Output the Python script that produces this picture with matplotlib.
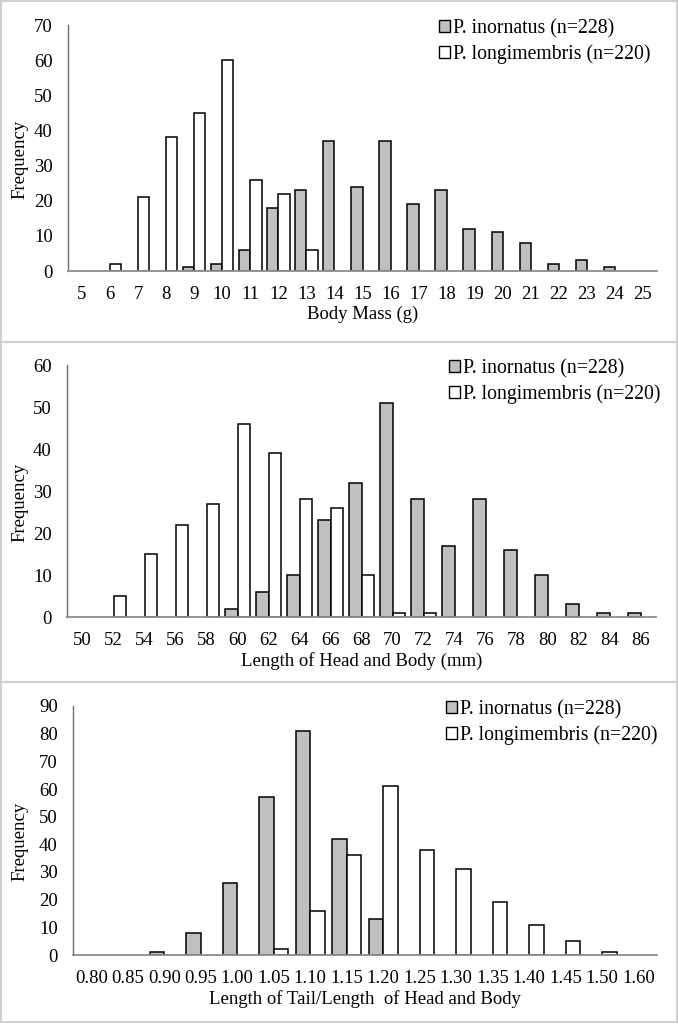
import numpy as np
import matplotlib
matplotlib.use('Agg')
import matplotlib.pyplot as plt
from matplotlib.patches import Rectangle

plt.rcParams['font.family'] = ['Liberation Serif', 'DejaVu Serif']

# body mass (g)
mass_bins = ['5', '6', '7', '8', '9', '10', '11', '12', '13', '14', '15',
             '16', '17', '18', '19', '20', '21', '22', '23', '24', '25']
mass_inornatus = [0, 0, 0, 0, 1, 2, 6, 18, 23, 37, 24, 37, 19, 23, 12, 11, 8, 2, 3, 1, 0]
mass_longimembris = [0, 2, 21, 38, 45, 60, 26, 22, 6, 0, 0, 0, 0, 0, 0, 0, 0, 0, 0, 0, 0]

# length of head and body (mm)
hb_bins = ['50', '52', '54', '56', '58', '60', '62', '64', '66', '68',
           '70', '72', '74', '76', '78', '80', '82', '84', '86']
hb_inornatus = [0, 0, 0, 0, 0, 2, 6, 10, 23, 32, 51, 28, 17, 28, 16, 10, 3, 1, 1]
hb_longimembris = [0, 5, 15, 22, 27, 46, 39, 28, 26, 10, 1, 1, 0, 0, 0, 0, 0, 0, 0]

# tail / head and body
ratio_bins = ['0.80', '0.85', '0.90', '0.95', '1.00', '1.05', '1.10', '1.15',
              '1.20', '1.25', '1.30', '1.35', '1.40', '1.45', '1.50', '1.60']
ratio_inornatus = [0, 0, 1, 8, 26, 57, 81, 42, 13, 0, 0, 0, 0, 0, 0, 0]
ratio_longimembris = [0, 0, 0, 0, 0, 2, 16, 36, 61, 38, 31, 19, 11, 5, 1, 0]

labels = ['P. inornatus (n=228)', 'P. longimembris (n=220)']

W, H = 678, 1024
fig = plt.figure(figsize=(W / 100, H / 100), dpi=100)


def px_axes(left, right, top, bottom):
    # pixel box (from top-left) -> figure fraction
    return fig.add_axes([left / W, 1 - bottom / H, (right - left) / W, (bottom - top) / H])


def draw_panel(ax, bins, inorn, longi, ymax, xlabel, leg_xy):
    x = np.arange(len(bins))
    inorn = np.array(inorn)
    longi = np.array(longi)
    # skip empty bins so no flat outline is drawn on the axis
    m1 = inorn > 0
    m2 = longi > 0
    ax.bar(x[m1] - 0.2, inorn[m1], 0.4, color='#c0c0c0', edgecolor='black', linewidth=1.1)
    ax.bar(x[m2] + 0.2, longi[m2], 0.4, color='white', edgecolor='black', linewidth=1.1)
    ax.set_xlim(-0.5, len(bins) - 0.5)
    ax.set_ylim(0, ymax)
    ax.set_yticks(np.arange(0, ymax + 1, 10))
    ax.set_xticks(x)
    ax.set_xticklabels(bins)
    ax.tick_params(axis='x', length=0, pad=11, labelsize=13.5)
    ax.tick_params(axis='y', length=0, pad=11, labelsize=13.5)
    for s in ['top', 'right']:
        ax.spines[s].set_visible(False)
    ax.spines['left'].set_color('#707070')
    ax.spines['bottom'].set_color('#8c8c8c')
    ax.spines['left'].set_linewidth(1.0)
    ax.spines['bottom'].set_linewidth(1.3)
    ax.set_xlabel(xlabel, fontsize=13.5, labelpad=2)
    ax.set_ylabel('Frequency', fontsize=13.5)
    pos = ax.get_position()
    ax.yaxis.set_label_coords((28 / W - pos.x0) / pos.width, 0.455)
    h1 = Rectangle((0, 0), 1, 1, facecolor='#c0c0c0', edgecolor='black', linewidth=1.0)
    h2 = Rectangle((0, 0), 1, 1, facecolor='white', edgecolor='black', linewidth=1.0)
    ax.legend([h1, h2], labels, loc='upper left', frameon=False, fontsize=14.2,
              handlelength=0.55, handleheight=0.55, handletextpad=0.15,
              labelspacing=0.3, borderpad=0, borderaxespad=0,
              bbox_to_anchor=(leg_xy[0] / W, 1 - leg_xy[1] / H),
              bbox_transform=fig.transFigure)


ax1 = px_axes(68, 657, 25, 271)
draw_panel(ax1, mass_bins, mass_inornatus, mass_longimembris, 70, 'Body Mass (g)', (439, 19))

ax2 = px_axes(67, 656, 365, 617)
draw_panel(ax2, hb_bins, hb_inornatus, hb_longimembris, 60,
           'Length of Head and Body (mm)', (449, 359))

ax3 = px_axes(73, 657, 706, 955)
draw_panel(ax3, ratio_bins, ratio_inornatus, ratio_longimembris, 90,
           'Length of Tail/Length  of Head and Body', (446, 700))

# light grey chart-area borders
for top, bot in [(1, 342), (342, 682), (682, 1022)]:
    fig.patches.append(Rectangle((1 / W, 1 - bot / H), 676 / W, (bot - top) / H,
                                 transform=fig.transFigure, fill=False,
                                 edgecolor='#d0d0d0', linewidth=1.5))

fig.savefig('out.png', dpi=100, facecolor='white')
